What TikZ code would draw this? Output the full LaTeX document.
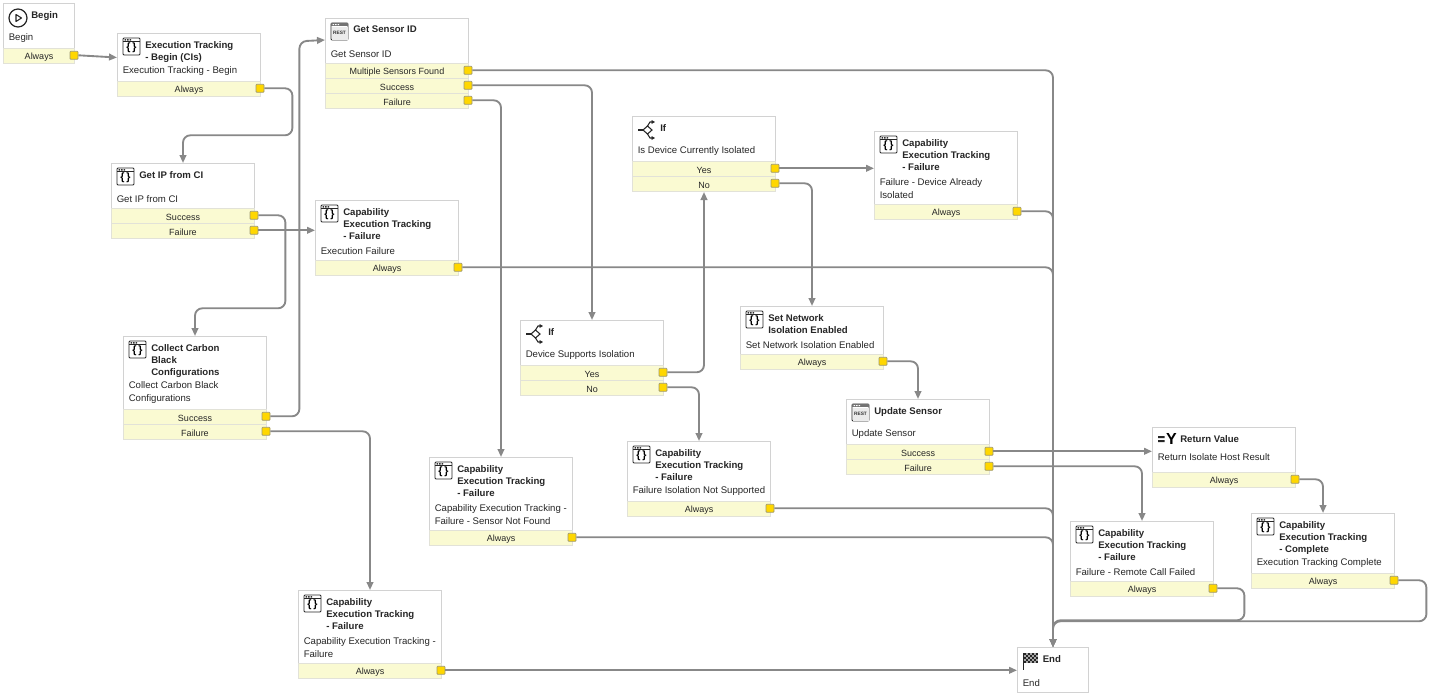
\documentclass[tikz,border=0pt]{standalone}
\usepackage{fontspec}
\setmainfont{Liberation Sans}
\usetikzlibrary{arrows.meta}
\definecolor{boxline}{HTML}{D2D2D2}
\definecolor{rowfill}{HTML}{FAFAD2}
\definecolor{rowline}{HTML}{E2E2D8}
\definecolor{portfill}{HTML}{FFD700}
\definecolor{portline}{HTML}{A09A70}
\definecolor{wire}{HTML}{888888}
\definecolor{ink}{HTML}{262626}
\tikzset{
  whitebox/.style={draw=boxline,fill=white,line width=0.75pt,anchor=north west,inner sep=0pt},
  rowbox/.style={draw=rowline,fill=rowfill,line width=0.75pt,anchor=north west,inner sep=0pt,minimum height=11.25pt},
  rowtext/.style={inner sep=0pt,text=ink,font=\fontsize{6.75pt}{8pt}\selectfont},
  portbox/.style={draw=portline,fill=portfill,line width=0.6pt,minimum width=6pt,minimum height=6pt,inner sep=0pt,rounded corners=0.6pt},
  titletext/.style={anchor=north west,inner sep=0pt,align=left,text=ink,font=\fontsize{7.2pt}{9pt}\selectfont\bfseries},
  desctext/.style={anchor=south west,inner sep=0pt,align=left,text=ink,font=\fontsize{7.2pt}{9.7pt}\selectfont},
  wirepath/.style={draw=wire,line width=1.4pt,rounded corners=5.5pt,-{Triangle[length=6pt,width=5pt]}},
  iconline/.style={draw=black!85,line width=0.7pt}
}
\newcommand\iconcode[3]{%
  \draw[iconline,rounded corners=0.8pt] (#1+6,#2+5) rectangle (#1+23,#2+22);
  \draw[iconline] (#1+6,#2+8) -- (#1+23,#2+8);
  \fill[black!80] (#1+7.5,#2+6) rectangle (#1+9,#2+7.5) (#1+10,#2+6) rectangle (#1+11.5,#2+7.5) (#1+12.5,#2+6) rectangle (#1+14,#2+7.5);
  \node[inner sep=0pt,text=black,font=\fontsize{8pt}{8pt}\selectfont\bfseries] (#3) at (#1+14.5,#2+14.7) {\{\,\}};
}
\newcommand\iconrest[3]{%
  \draw[iconline,rounded corners=0.8pt] (#1+6,#2+5) rectangle (#1+23,#2+22);
  \fill[black!55] (#1+6.4,#2+5.4) rectangle (#1+22.6,#2+8);
  \fill[white] (#1+7.5,#2+6) rectangle (#1+9,#2+7) (#1+10,#2+6) rectangle (#1+11.5,#2+7) (#1+12.5,#2+6) rectangle (#1+14,#2+7);
  \fill[black!8] (#1+6.5,#2+8.5) rectangle (#1+22.5,#2+21.5);
  \node[inner sep=0pt,text=black!80,font=\fontsize{3.6pt}{4pt}\selectfont\bfseries] (#3) at (#1+14.5,#2+14.7) {REST};
}
\newcommand\iconif[3]{%
  \coordinate (#3) at (#1+15,#2+14);
  \draw[iconline,line width=0.9pt] (#1+6,#2+14) -- (#1+11,#2+14);
  \draw[iconline,line width=0.8pt] (#1+11,#2+14) -- (#1+15.5,#2+10) -- (#1+20,#2+14) -- (#1+15.5,#2+18) -- cycle;
  \draw[iconline,line width=0.8pt,-{Triangle[length=2.6pt,width=2.8pt]}] (#1+15.5,#2+10) -- (#1+18,#2+6) -- (#1+23,#2+6);
  \draw[iconline,line width=0.8pt,-{Triangle[length=2.6pt,width=2.8pt]}] (#1+15.5,#2+18) -- (#1+18,#2+22) -- (#1+23,#2+22);
}
\newcommand\iconbegin[3]{%
  \draw[iconline,line width=0.9pt] (#1+15,#2+15) circle[radius=9];
  \draw[iconline,line width=0.8pt,line join=round] (#1+13,#2+11.5) -- (#1+18.5,#2+15) -- (#1+13,#2+18.5) -- cycle;
  \coordinate (#3) at (#1+15,#2+15);
}
\newcommand\iconend[3]{%
  \coordinate (#3) at (#1+6,#2+6);
  \draw[iconline] (#1+6,#2+6) -- (#1+6,#2+23);
  \foreach \a in {0,...,6} \foreach \b in {0,...,4}{
    \pgfmathparse{int(mod(\a+\b,2))}
    \ifnum\pgfmathresult=0 \fill[black!85] (#1+7+\a*2,#2+6+\b*2) rectangle ++(2,2);
    \else \fill[black!35] (#1+7+\a*2,#2+6+\b*2) rectangle ++(2,2); \fi
  }
}
\newcommand\iconreturn[3]{%
  \fill[black!85] (#1+6,#2+9) rectangle (#1+12.5,#2+11) (#1+6,#2+13) rectangle (#1+12.5,#2+15);
  \node[inner sep=0pt,text=black,font=\fontsize{12pt}{12pt}\selectfont\bfseries] (#3) at (#1+19.5,#2+12) {Y};
}
\newcommand\titlex{28}
\newcommand\descgap{5.5}
% name, x, y, width, white height, icon macro, title, description
\newcommand\wfbody[8]{%
  \node[whitebox,minimum width=#4*0.75pt,minimum height=#5*0.75pt] (#1) at (#2,#3) {};
  \csname icon#6\endcsname{#2}{#3}{#1-icon}
  \node[titletext] (#1-title) at (#2+\titlex,#3+8) {#7};
  \node[desctext] (#1-desc) at (#2+5.5,#3+#5-\descgap) {#8};
}
% name, x, y, width, white height, rows
\newcommand\wfrows[6]{%
  \foreach \rowlabel [count=\i] in {#6}{
    \node[rowbox,minimum width=#4*0.75pt] (#1-r\i) at (#2,#3+#5+\i*15-15) {};
    \node[rowtext] (#1-t\i) at ($(#1-r\i.center)+(0,1)$) {\rowlabel};
    \node[portbox] (#1-p\i) at (#2+#4,#3+#5+\i*15-7.7) {};
  }
}
\newcommand\wf[9]{\wfbody{#1}{#2}{#3}{#4}{#5}{#6}{#7}{#8}\wfrows{#1}{#2}{#3}{#4}{#5}{#9}}
\usetikzlibrary{calc}
\begin{document}
\begin{tikzpicture}[x=0.75pt,y=-0.75pt]
\useasboundingbox[fill=white] (0,0) rectangle (1431,696);
\wf{begin}{3}{3}{71}{45}{begin}{Begin}{Begin}{Always}
\wf{etb}{117}{33}{143}{48}{code}{Execution Tracking\\- Begin (CIs)}{Execution Tracking - Begin}{Always}
\wf{getip}{111}{163}{143}{45}{code}{Get IP from CI}{Get IP from CI}{Success,Failure}
\wf{collect}{123}{336}{143}{73}{code}{Collect Carbon\\Black\\Configurations}{Collect Carbon Black\\Configurations}{Success,Failure}
\wf{sensor}{325}{18}{143}{45}{rest}{Get Sensor ID}{Get Sensor ID}{Multiple Sensors Found,Success,Failure}
\wf{capexec}{315}{200}{143}{60}{code}{Capability\\Execution Tracking\\- Failure}{Execution Failure}{Always}
\wf{capnot}{429}{457}{143}{73}{code}{Capability\\Execution Tracking\\- Failure}{Capability Execution Tracking -\\Failure - Sensor Not Found}{Always}
\wf{capbot}{298}{590}{143}{73}{code}{Capability\\Execution Tracking\\- Failure}{Capability Execution Tracking -\\Failure}{Always}
\wf{ifsup}{520}{320}{143}{45}{if}{If}{Device Supports Isolation}{Yes,No}
\wf{ifcur}{632}{116}{143}{45}{if}{If}{Is Device Currently Isolated}{Yes,No}
\wf{capiso}{627}{441}{143}{60}{code}{Capability\\Execution Tracking\\- Failure}{Failure Isolation Not Supported}{Always}
\wf{capalr}{874}{131}{143}{73}{code}{Capability\\Execution Tracking\\- Failure}{Failure - Device Already\\Isolated}{Always}
\wf{setnet}{740}{306}{143}{48}{code}{Set Network\\Isolation Enabled}{Set Network Isolation Enabled}{Always}
\wf{update}{846}{399}{143}{45}{rest}{Update Sensor}{Update Sensor}{Success,Failure}
\renewcommand\descgap{11}
\wf{retval}{1152}{427}{143}{45}{return}{Return Value}{Return Isolate Host Result}{Always}
\renewcommand\descgap{5.5}
\wf{capcall}{1070}{521}{143}{60}{code}{Capability\\Execution Tracking\\- Failure}{Failure - Remote Call Failed}{Always}
\wf{capdone}{1251}{513}{143}{60}{code}{Capability\\Execution Tracking\\- Complete}{Execution Tracking Complete}{Always}
\renewcommand\titlex{25.5}
\wfbody{finish}{1017}{647}{71}{45}{end}{End}{End}
% connectors
\draw[wirepath] (begin-p1.east) -- (etb.west);
\draw[wirepath] (etb-p1.east) -- ++(28,0) -- ++(0,47) -| (getip.north);
\draw[wirepath] (getip-p1.east) -- ++(27,0) -- ++(0,93) -| (collect.north);
\draw[wirepath] (getip-p2.east) -- (capexec.west |- getip-p2.east);
\draw[wirepath] (collect-p1.east) -| ++(29,-375) -- (sensor.west |- 0,40);
\draw[wirepath] (collect-p2.east) -| (capbot.north);
\draw[wirepath] (sensor-p1.east) -| (finish.north);
\draw[wirepath] (sensor-p2.east) -| (ifsup.north);
\draw[wirepath] (sensor-p3.east) -| (capnot.north);
\draw[wirepath] (capexec-p1.east) -| (finish.north);
\draw[wirepath] (ifsup-p1.east) -| (ifcur-r2.south);
\draw[wirepath] (ifsup-p2.east) -| (capiso.north);
\draw[wirepath] (ifcur-p1.east) -- (capalr.west |- ifcur-p1.east);
\draw[wirepath] (ifcur-p2.east) -| (setnet.north);
\draw[wirepath] (capalr-p1.east) -| (finish.north);
\draw[wirepath] (setnet-p1.east) -| (update.north);
\draw[wirepath] (update-p1.east) -- (retval.west |- update-p1.east);
\draw[wirepath] (update-p2.east) -| (capcall.north);
\draw[wirepath] (retval-p1.east) -| (capdone.north);
\draw[wirepath] (capcall-p1.east) -- ++(27,0) -- ++(0,32) -| (finish.north);
\draw[wirepath] (capdone-p1.east) -- ++(28,0) -- ++(0,41) -| (finish.north);
\draw[wirepath] (capiso-p1.east) -| (finish.north);
\draw[wirepath] (capnot-p1.east) -| (finish.north);
\draw[wirepath] (capbot-p1.east) -- (finish.west |- capbot-p1.east);
\end{tikzpicture}
\end{document}
